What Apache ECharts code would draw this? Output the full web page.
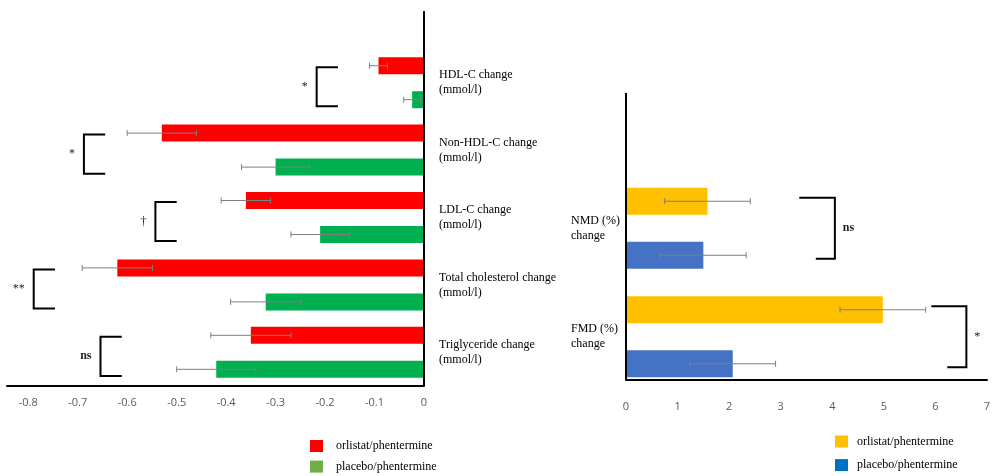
<!DOCTYPE html>
<html>
<head>
<meta charset="utf-8" />
<title>Lipid and vascular change</title>
<script src="https://cdn.jsdelivr.net/npm/echarts@6/dist/echarts.min.js"></script>
</head>
<body style="margin:0">
<div id="main" style="width:995px;height:476px;background-color:white"></div>
<script type="text/javascript">
// left panel - lipid changes (mmol/l)
var lipidCats = ['HDL-C change\n(mmol/l)', 'Non-HDL-C change\n(mmol/l)', 'LDL-C change\n(mmol/l)', 'Total cholesterol change\n(mmol/l)', 'Triglyceride change\n(mmol/l)'];
var lipidOrlistat = [-0.092, -0.53, -0.36, -0.62, -0.35];
var lipidOrlistatErr = [0.018, 0.07, 0.05, 0.071, 0.081];
var lipidPlacebo = [-0.024, -0.30, -0.21, -0.32, -0.42];
var lipidPlaceboErr = [0.017, 0.069, 0.059, 0.071, 0.08];
var lipidTicks = [-0.8, -0.7, -0.6, -0.5, -0.4, -0.3, -0.2, -0.1, 0];
// significance brackets (x of the bracket, arm length, mark)
var lipidSigX = [-0.217, -0.6875, -0.543, -0.789, -0.654];
var lipidSigArm = 0.043;
var lipidSigMark = ['*', '*', '\u2020', '**', 'ns'];

// right panel - NMD / FMD (%)
var vascCats = ['NMD (%)\nchange', 'FMD (%)\nchange'];
var vascOrlistat = [1.58, 4.98];
var vascOrlistatErr = [0.83, 0.83];
var vascPlacebo = [1.50, 2.07];
var vascPlaceboErr = [0.83, 0.83];
var vascTicks = [0, 1, 2, 3, 4, 5, 6, 7];
var vascSigX = [4.05, 6.60];
var vascSigTopFrom = [3.36, 5.92];
var vascSigBottomFrom = [3.68, 6.23];
var vascSigMark = ['ns', '*'];

var serif = '"Liberation Serif", "Times New Roman", serif';
var tickFont = '"Open Sans", sans-serif';

var myChart = echarts.init(document.getElementById('main'));

// error bars drawn on top of the bars; side -1 = upper bar in group, +1 = lower
function errSeries(values, errs, axisIdx, side, barW) {
  return {
    name: 'err' + axisIdx + side,
    type: 'custom',
    xAxisIndex: axisIdx,
    yAxisIndex: axisIdx,
    z: 5,
    silent: true,
    encode: { x: 0, y: 1 },
    data: values.map(function (v, i) { return [v, i, errs[i]]; }),
    renderItem: function (params, api) {
      var v = api.value(0), idx = api.value(1), e = api.value(2);
      var y = api.coord([v, idx])[1] + side * barW;
      var l = api.coord([v - e, idx])[0];
      var r = api.coord([v + e, idx])[0];
      var st = { stroke: '#7f7f7f', lineWidth: 1 };
      return {
        type: 'group',
        children: [
          { type: 'line', shape: { x1: l, y1: y, x2: r, y2: y }, style: st },
          { type: 'line', shape: { x1: l, y1: y - 3, x2: l, y2: y + 3 }, style: st },
          { type: 'line', shape: { x1: r, y1: y - 3, x2: r, y2: y + 3 }, style: st }
        ]
      };
    }
  };
}

function markStyle(mark) {
  return {
    text: mark,
    fill: '#222',
    font: (mark === 'ns' ? 'bold ' : '') + '12px ' + serif
  };
}

// "[" brackets on the left panel
var lipidBrackets = {
  name: 'sigL',
  type: 'custom',
  xAxisIndex: 0,
  yAxisIndex: 0,
  z: 5,
  silent: true,
  encode: { x: 0, y: 1 },
  data: lipidSigX.map(function (x, i) { return [x, i]; }),
  renderItem: function (params, api) {
    var p = api.coord([api.value(0), api.value(1)]);
    var band = api.size([0, 1])[1];
    var arm = api.size([lipidSigArm, 0])[0];
    var top = p[1] - 0.23 * band, bottom = p[1] + 0.35 * band;
    var ts = markStyle(lipidSigMark[params.dataIndex]);
    ts.x = p[0] - 9; ts.y = (top + bottom) / 2;
    ts.align = 'right'; ts.verticalAlign = 'middle';
    return {
      type: 'group',
      children: [
        { type: 'polyline', shape: { points: [[p[0] + arm, top], [p[0], top], [p[0], bottom], [p[0] + arm, bottom]] },
          style: { stroke: '#000', lineWidth: 2, fill: null } },
        { type: 'text', style: ts }
      ]
    };
  }
};

// "]" brackets on the right panel
var vascBrackets = {
  name: 'sigR',
  type: 'custom',
  xAxisIndex: 1,
  yAxisIndex: 1,
  z: 5,
  silent: true,
  encode: { x: 0, y: 1 },
  data: vascSigX.map(function (x, i) { return [x, i, vascSigTopFrom[i], vascSigBottomFrom[i]]; }),
  renderItem: function (params, api) {
    var idx = api.value(1);
    var p = api.coord([api.value(0), idx]);
    var band = api.size([0, 1])[1];
    var tx = api.coord([api.value(2), idx])[0];
    var bx = api.coord([api.value(3), idx])[0];
    var top = p[1] - 0.28 * band, bottom = p[1] + 0.28 * band;
    var ts = markStyle(vascSigMark[params.dataIndex]);
    ts.x = p[0] + 8; ts.y = (top + bottom) / 2;
    ts.align = 'left'; ts.verticalAlign = 'middle';
    return {
      type: 'group',
      children: [
        { type: 'polyline', shape: { points: [[tx, top], [p[0], top], [p[0], bottom], [bx, bottom]] },
          style: { stroke: '#000', lineWidth: 2, fill: null } },
        { type: 'text', style: ts }
      ]
    };
  }
};

var option = {
  animation: false,
  grid: [
    { left: 7, right: 571, top: 49, bottom: 90 },
    { left: 626, right: 8, top: 174, bottom: 85 }
  ],
  xAxis: [
    {
      type: 'value', gridIndex: 0, min: -0.843, max: 0,
      axisLine: { show: true, lineStyle: { color: '#000', width: 2 } },
      axisTick: { show: false },
      splitLine: { show: false },
      axisLabel: {
        customValues: lipidTicks, margin: 11, color: '#595959', fontSize: 11, fontFamily: tickFont,
        formatter: function (v) { return v === 0 ? '0' : v.toFixed(1); }
      }
    },
    {
      type: 'value', gridIndex: 1, min: 0, max: 7, offset: -11,
      axisLine: { show: true, lineStyle: { color: '#000', width: 2 } },
      axisTick: { show: false },
      splitLine: { show: false },
      axisLabel: { customValues: vascTicks, margin: 21, color: '#595959', fontSize: 11, fontFamily: tickFont }
    }
  ],
  yAxis: [
    {
      type: 'category', gridIndex: 0, data: lipidCats, inverse: true, position: 'right',
      axisLine: { show: false }, axisTick: { show: false },
      axisLabel: { align: 'left', margin: 15, color: '#000', fontSize: 12, lineHeight: 15, fontFamily: serif }
    },
    {
      type: 'category', gridIndex: 1, data: vascCats, inverse: true, position: 'left',
      axisLine: { show: false }, axisTick: { show: false },
      axisLabel: { align: 'left', margin: 55, color: '#000', fontSize: 12, lineHeight: 15, fontFamily: serif,
        padding: [0, 0, 16, 0] }
    }
  ],
  legend: [
    {
      left: 310, top: 440, orient: 'vertical', padding: 0, itemWidth: 13, itemHeight: 12, itemGap: 8.6,
      selectedMode: false, icon: 'rect',
      textStyle: { fontFamily: serif, fontSize: 12, color: '#000', padding: [0, 0, 0, 8] },
      data: [
        { name: 'orlistat/phentermine', itemStyle: { color: '#FF0000' } },
        { name: 'placebo/phentermine', itemStyle: { color: '#70AD47' } }
      ]
    },
    {
      left: 835, top: 435.5, orient: 'vertical', padding: 0, itemWidth: 13, itemHeight: 12, itemGap: 11.6,
      selectedMode: false, icon: 'rect',
      textStyle: { fontFamily: serif, fontSize: 12, color: '#000', padding: [0, 0, 0, 4] },
      data: [
        { name: 'orlistat/phentermine', itemStyle: { color: '#FFC000' } },
        { name: 'placebo/phentermine', itemStyle: { color: '#0070C0' } }
      ]
    }
  ],
  series: [
    { name: 'orlistat/phentermine', type: 'bar', xAxisIndex: 0, yAxisIndex: 0, data: lipidOrlistat,
      barWidth: 17, barGap: '100%', itemStyle: { color: '#FF0000' } },
    { name: 'placebo/phentermine', type: 'bar', xAxisIndex: 0, yAxisIndex: 0, data: lipidPlacebo,
      barWidth: 17, barGap: '100%', itemStyle: { color: '#00B050' } },
    { name: 'orlistat/phentermine', type: 'bar', xAxisIndex: 1, yAxisIndex: 1, data: vascOrlistat,
      barWidth: 27, barGap: '100%', itemStyle: { color: '#FFC000' } },
    { name: 'placebo/phentermine', type: 'bar', xAxisIndex: 1, yAxisIndex: 1, data: vascPlacebo,
      barWidth: 27, barGap: '100%', itemStyle: { color: '#4472C4' } },
    errSeries(lipidOrlistat, lipidOrlistatErr, 0, -1, 17),
    errSeries(lipidPlacebo, lipidPlaceboErr, 0, 1, 17),
    errSeries(vascOrlistat, vascOrlistatErr, 1, -1, 27),
    errSeries(vascPlacebo, vascPlaceboErr, 1, 1, 27),
    lipidBrackets,
    vascBrackets
  ]
};

myChart.setOption(option);

// value axes (x = 0) run higher than the bar bands, like the source figure
var x0L = Math.round(myChart.convertToPixel({ xAxisIndex: 0 }, 0));
var x0R = Math.round(myChart.convertToPixel({ xAxisIndex: 1 }, 0));
myChart.setOption({
  graphic: [
    { type: 'line', shape: { x1: x0L, y1: 11, x2: x0L, y2: 386 }, style: { stroke: '#000', lineWidth: 2 }, z: 10 },
    { type: 'line', shape: { x1: x0R, y1: 93, x2: x0R, y2: 380 }, style: { stroke: '#000', lineWidth: 2 }, z: 10 }
  ]
});
</script>
</body>
</html>
